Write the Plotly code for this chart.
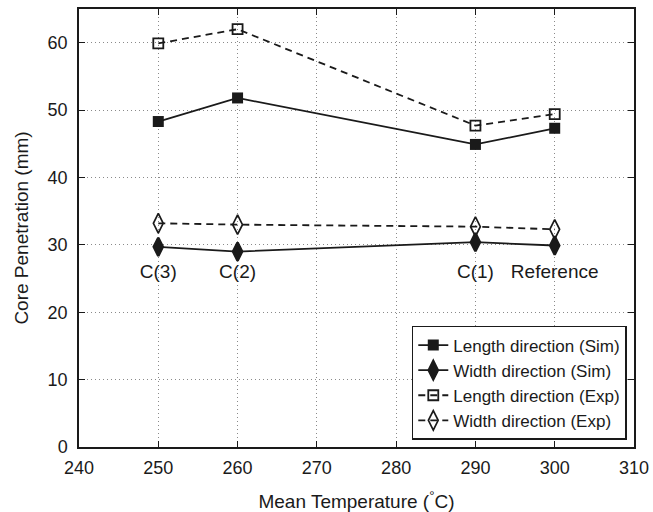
import plotly.graph_objects as go

temps = [250, 260, 290, 300]
length_sim = [48.3, 51.8, 44.9, 47.3]
width_sim = [29.7, 29.0, 30.4, 29.9]
length_exp = [59.9, 62.0, 47.7, 49.4]
width_exp = [33.2, 33.0, 32.7, 32.3]
case_labels = ["C(3)", "C(2)", "C(1)", "Reference"]
case_label_y = 25.8

FONT = "Liberation Sans, Arial, sans-serif"
INK = "#1a1a1a"

fig = go.Figure()
fig.add_trace(go.Scatter(x=temps, y=length_sim, name="Length direction (Sim)", mode="lines+markers",
                         line=dict(color=INK, width=1.8),
                         marker=dict(symbol="square", size=11, color=INK)))
fig.add_trace(go.Scatter(x=temps, y=width_sim, name="Width direction (Sim)", mode="lines+markers",
                         line=dict(color=INK, width=1.8),
                         marker=dict(symbol="diamond-tall", size=13, color=INK,
                                     line=dict(width=2.5, color=INK))))
fig.add_trace(go.Scatter(x=temps, y=length_exp, name="Length direction (Exp)", mode="lines+markers",
                         line=dict(color=INK, width=1.8, dash="7px,5px"),
                         marker=dict(symbol="square-open", size=10, color=INK, line=dict(width=1.8))))
fig.add_trace(go.Scatter(x=temps, y=width_exp, name="Width direction (Exp)", mode="lines+markers",
                         line=dict(color=INK, width=1.8, dash="7px,5px"),
                         marker=dict(symbol="diamond-tall-open", size=14, color=INK, line=dict(width=1.7))))

fig.add_trace(go.Scatter(x=temps, y=[case_label_y] * len(temps), text=case_labels, mode="text",
                         textfont=dict(family=FONT, size=19, color=INK), showlegend=False,
                         hoverinfo="skip"))

axis_common = dict(showline=True, linecolor=INK, linewidth=1.5, mirror="allticks",
                   ticks="inside", ticklen=6, tickcolor=INK, tickwidth=1,
                   showgrid=True, gridcolor="#8a8a8a", griddash="1px,3px", gridwidth=1,
                   zeroline=False, automargin=False, tickfont=dict(family=FONT, size=18, color=INK))

fig.update_xaxes(range=[240, 310], dtick=10, ticklabelstandoff=4,
                 title=dict(text="Mean Temperature (<sup>°</sup>C)",
                            font=dict(family=FONT, size=19, color=INK), standoff=18), **axis_common)
fig.update_yaxes(range=[0, 65], dtick=10, ticklabelstandoff=6,
                 title=dict(text="Core Penetration (mm)",
                            font=dict(family=FONT, size=19, color=INK), standoff=14), **axis_common)

fig.update_layout(width=653, height=512, margin=dict(l=79, r=19, t=9, b=65),
                  paper_bgcolor="white", plot_bgcolor="white",
                  font=dict(family=FONT, color=INK),
                  legend=dict(x=0.987, y=0.016, xanchor="right", yanchor="bottom",
                              bordercolor=INK, borderwidth=1.5, bgcolor="white",
                              font=dict(family=FONT, size=17, color=INK),
                              tracegroupgap=0, itemwidth=30))

fig.write_html("out.html")
